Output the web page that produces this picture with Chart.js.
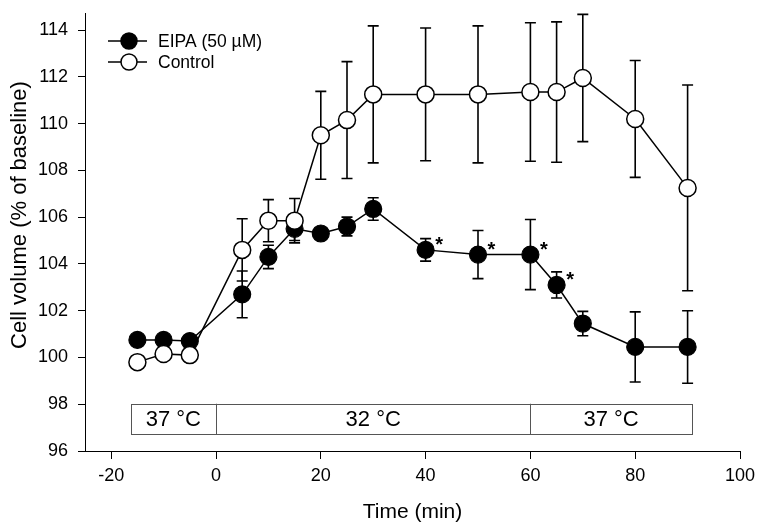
<!DOCTYPE html>
<html>
<head>
<meta charset="utf-8">
<script src="https://cdn.jsdelivr.net/npm/chart.js@4.4.1/dist/chart.umd.min.js"></script>
<style>
  html, body { margin: 0; padding: 0; background: #fff; }
  #wrap { width: 757px; height: 528px; }
</style>
</head>
<body>
<div id="wrap"><canvas id="c" width="757" height="528"></canvas></div>
<script>
// ---- data ----
const times = [-15, -10, -5, 5, 10, 15, 20, 25, 30, 40, 50, 60, 65, 70, 80, 90];
const eipaMean = [100.75, 100.75, 100.7, 102.7, 104.3, 105.5, 105.3, 105.6, 106.35, 104.6, 104.4, 104.4, 103.1, 101.45, 100.45, 100.45];
const eipaSem  = [0.1, 0.1, 0.1, 1.0, 0.5, 0.5, 0.2, 0.4, 0.48, 0.48, 1.03, 1.5, 0.56, 0.52, 1.5, 1.55];
const eipaSignif = [false, false, false, false, false, false, false, false, false, true, true, true, true, false, false, false];
const controlMean = [99.8, 100.15, 100.1, 104.6, 105.85, 105.85, 109.5, 110.15, 111.25, 111.25, 111.25, 111.35, 111.35, 111.95, 110.2, 107.25];
const controlSem  = [0.1, 0.15, 0.28, 1.33, 0.9, 0.95, 1.88, 2.5, 2.93, 2.84, 2.93, 2.96, 3.0, 2.72, 2.5, 4.4];
const seriesNames = ['EIPA (50 µM)', 'Control'];
const xTitle = 'Time (min)';
const yTitle = 'Cell volume (% of baseline)';
const xTicks = [-20, 0, 20, 40, 60, 80, 100];
const yTicks = [96, 98, 100, 102, 104, 106, 108, 110, 112, 114];
const tempBounds = [-16.3, 0, 60, 90.8];
const tempLabels = ['37 °C', '32 °C', '37 °C'];
const tempBandY = [96.72, 98.02];

const FONT = "'Liberation Sans', Arial, sans-serif";

function pts(mean) { return times.map((t, i) => ({ x: t, y: mean[i] })); }

const errorBars = {
  id: 'errorBars',
  beforeDatasetsDraw(chart) {
    const ctx = chart.ctx, xs = chart.scales.x, ys = chart.scales.y;
    const sets = [[eipaMean, eipaSem], [controlMean, controlSem]];
    ctx.save();
    ctx.strokeStyle = '#000';
    ctx.lineWidth = 1.6;
    sets.forEach(([m, s]) => {
      times.forEach((t, i) => {
        const px = xs.getPixelForValue(t);
        const top = ys.getPixelForValue(m[i] + s[i]);
        const bot = ys.getPixelForValue(m[i] - s[i]);
        ctx.beginPath();
        ctx.moveTo(px, top); ctx.lineTo(px, bot);
        ctx.moveTo(px - 5.5, top); ctx.lineTo(px + 5.5, top);
        ctx.moveTo(px - 5.5, bot); ctx.lineTo(px + 5.5, bot);
        ctx.stroke();
      });
    });
    ctx.restore();
  }
};

const extras = {
  id: 'extras',
  afterDraw(chart) {
    const ctx = chart.ctx, ys = chart.scales.y;
    ctx.save();
    ctx.fillStyle = '#000';
    ctx.font = '22px ' + FONT;
    ctx.textAlign = 'center';
    ctx.textBaseline = 'middle';
    ctx.translate(20, 215);
    ctx.rotate(-Math.PI / 2);
    ctx.fillText(yTitle, 0, 0);
    ctx.restore();
  },
  afterDatasetsDraw(chart) {
    const ctx = chart.ctx, xs = chart.scales.x, ys = chart.scales.y;
    ctx.save();
    // asterisks
    ctx.fillStyle = '#000';
    ctx.font = 'bold 20px ' + FONT;
    ctx.textAlign = 'center';
    ctx.textBaseline = 'alphabetic';
    times.forEach((t, i) => {
      if (eipaSignif[i]) {
        ctx.fillText('*', xs.getPixelForValue(t) + 13.5, ys.getPixelForValue(eipaMean[i]) + 1);
      }
    });
    // temperature band
    const yTop = ys.getPixelForValue(tempBandY[1]);
    const yBot = ys.getPixelForValue(tempBandY[0]);
    ctx.strokeStyle = '#555';
    ctx.lineWidth = 1;
    const x0 = xs.getPixelForValue(tempBounds[0]);
    const x3 = xs.getPixelForValue(tempBounds[tempBounds.length - 1]);
    ctx.strokeRect(Math.round(x0) + 0.5, Math.round(yTop) + 0.5, Math.round(x3 - x0), Math.round(yBot - yTop));
    ctx.font = '22px ' + FONT;
    ctx.textAlign = 'center';
    ctx.textBaseline = 'middle';
    ctx.fillStyle = '#000';
    for (let i = 0; i < tempLabels.length; i++) {
      const a = xs.getPixelForValue(tempBounds[i]);
      const b = xs.getPixelForValue(tempBounds[i + 1]);
      if (i > 0) {
        ctx.beginPath();
        ctx.moveTo(Math.round(a) + 0.5, yTop); ctx.lineTo(Math.round(a) + 0.5, yBot);
        ctx.stroke();
      }
      ctx.fillText(tempLabels[i], (a + b) / 2, (yTop + yBot) / 2 + 1);
    }
    // legend
    const lx0 = 108, lx1 = 147, mx = 129;
    const ly = [41, 62];
    const fills = ['#000', '#fff'];
    ctx.font = '17.5px ' + FONT;
    ctx.textAlign = 'left';
    ctx.lineWidth = 1.5;
    ctx.strokeStyle = '#000';
    for (let i = 0; i < 2; i++) {
      ctx.beginPath();
      ctx.moveTo(lx0, ly[i]); ctx.lineTo(lx1, ly[i]);
      ctx.stroke();
      ctx.beginPath();
      ctx.arc(mx, ly[i], 8, 0, Math.PI * 2);
      ctx.fillStyle = fills[i];
      ctx.fill();
      ctx.stroke();
      ctx.fillStyle = '#000';
      ctx.fillText(seriesNames[i], 158, ly[i] + 1);
    }
    ctx.restore();
  }
};

new Chart(document.getElementById('c'), {
  type: 'scatter',
  data: {
    datasets: [
      {
        label: seriesNames[0], data: pts(eipaMean), showLine: true, order: 1,
        borderColor: '#000', borderWidth: 1.5, backgroundColor: '#000',
        pointRadius: 8.5, pointBorderColor: '#000', pointBackgroundColor: '#000', pointBorderWidth: 1.2
      },
      {
        label: seriesNames[1], data: pts(controlMean), showLine: true, order: 0,
        borderColor: '#000', borderWidth: 1.5, backgroundColor: '#fff',
        pointRadius: 8.5, pointBorderColor: '#000', pointBackgroundColor: '#fff', pointBorderWidth: 1.5
      }
    ]
  },
  options: {
    responsive: false,
    animation: false,
    devicePixelRatio: 1,
    layout: { padding: { top: 13, right: 17, left: 0, bottom: 0 } },
    plugins: { legend: { display: false }, tooltip: { enabled: false } },
    scales: {
      x: {
        type: 'linear', min: -25, max: 100,
        afterFit(s) { s.height = 77; s.paddingLeft = 0; s.paddingRight = 0; },
        afterBuildTicks(s) { s.ticks = xTicks.map(v => ({ value: v })); },
        grid: { drawOnChartArea: false, tickLength: 8, color: '#000', tickColor: '#000' },
        border: { color: '#000', width: 1 },
        ticks: { color: '#000', font: { family: FONT, size: 18 }, padding: 6, maxRotation: 0 },
        title: { display: true, text: xTitle, color: '#000', font: { family: FONT, size: 21 }, padding: { top: 2, bottom: 3 } }
      },
      y: {
        type: 'linear', min: 96, max: 114.73,
        afterFit(s) { s.width = 85; s.paddingTop = 0; s.paddingBottom = 0; },
        afterBuildTicks(s) { s.ticks = yTicks.map(v => ({ value: v })); },
        grid: { drawOnChartArea: false, tickLength: 7, color: '#000', tickColor: '#000' },
        border: { color: '#000', width: 1 },
        ticks: { color: '#000', font: { family: FONT, size: 18 }, padding: 10 },
        title: { display: false }
      }
    }
  },
  plugins: [errorBars, extras]
});
</script>
</body>
</html>
